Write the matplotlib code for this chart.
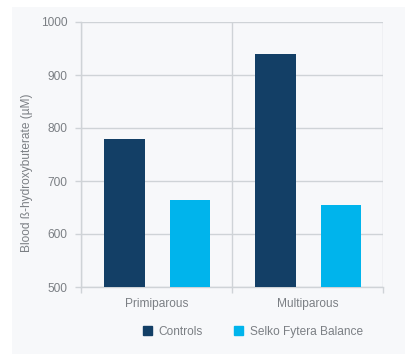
import matplotlib
matplotlib.use('Agg')
import matplotlib.pyplot as plt
from matplotlib.patches import Rectangle
import numpy as np

categories = ["Primiparous", "Multiparous"]
series_names = ["Controls", "Selko Fytera Balance"]
controls = [780, 940]
selko = [665, 654]
y_ticks = [500, 600, 700, 800, 900, 1000]

plt.rcParams['font.family'] = ['Liberation Sans', 'DejaVu Sans']
text_color = "#7b7f84"
grid_color = "#cfd3d7"
colors = ["#133f66", "#00b4ec"]
fs = 8.6

fig = plt.figure(figsize=(4.05, 3.54), dpi=100, facecolor="white")
# light grey panel behind the chart
fig.patches.append(Rectangle((12 / 405, 0), 1, 1 - 7 / 354, transform=fig.transFigure,
                             facecolor="#f7f8fa", edgecolor="none", zorder=-10))

ax = fig.add_axes([81 / 405, 1 - 287 / 354, 302 / 405, 265 / 354])
ax.set_facecolor("#f7f8fa")

x = np.arange(len(categories)) + 0.5
width = 0.27
ax.bar(x - 0.214, controls, width, color=colors[0], label=series_names[0], zorder=3)
ax.bar(x + 0.222, selko, width, color=colors[1], label=series_names[1], zorder=3)

ax.set_xlim(0, len(categories))
ax.set_ylim(500, 1000)
ax.set_yticks(y_ticks)
ax.set_xticks(x)
ax.set_xticklabels(categories)
ax.set_xticks(np.arange(len(categories) + 1), minor=True)

ax.tick_params(axis='x', which='major', length=0, pad=8, labelsize=fs, labelcolor=text_color)
ax.tick_params(axis='x', which='minor', length=4, width=1, color=grid_color)
ax.tick_params(axis='y', length=4, width=1, color=grid_color, pad=6, labelsize=fs,
               labelcolor=text_color)

ax.grid(axis='y', color=grid_color, linewidth=1, zorder=1)
ax.grid(axis='x', which='minor', color=grid_color, linewidth=1, zorder=1)

for side in ["top", "right"]:
    ax.spines[side].set_visible(False)
for side in ["left", "bottom"]:
    ax.spines[side].set_color(grid_color)
    ax.spines[side].set_linewidth(1)

ax.set_ylabel("Blood ß-hydroxybuterate (µM)", fontsize=fs, color=text_color)
ax.yaxis.set_label_coords(-0.158, 0.43)

handles = [Rectangle((0, 0), 1, 1, color=c) for c in colors]
fig.legend(handles, series_names, loc='center', bbox_to_anchor=(253 / 405, 1 - 332 / 354),
           ncol=2, frameon=False, fontsize=fs, labelcolor=text_color,
           handlelength=0.75, handleheight=0.75, handletextpad=0.6, columnspacing=2.6)

fig.savefig("out.png", dpi=100, facecolor="white")
